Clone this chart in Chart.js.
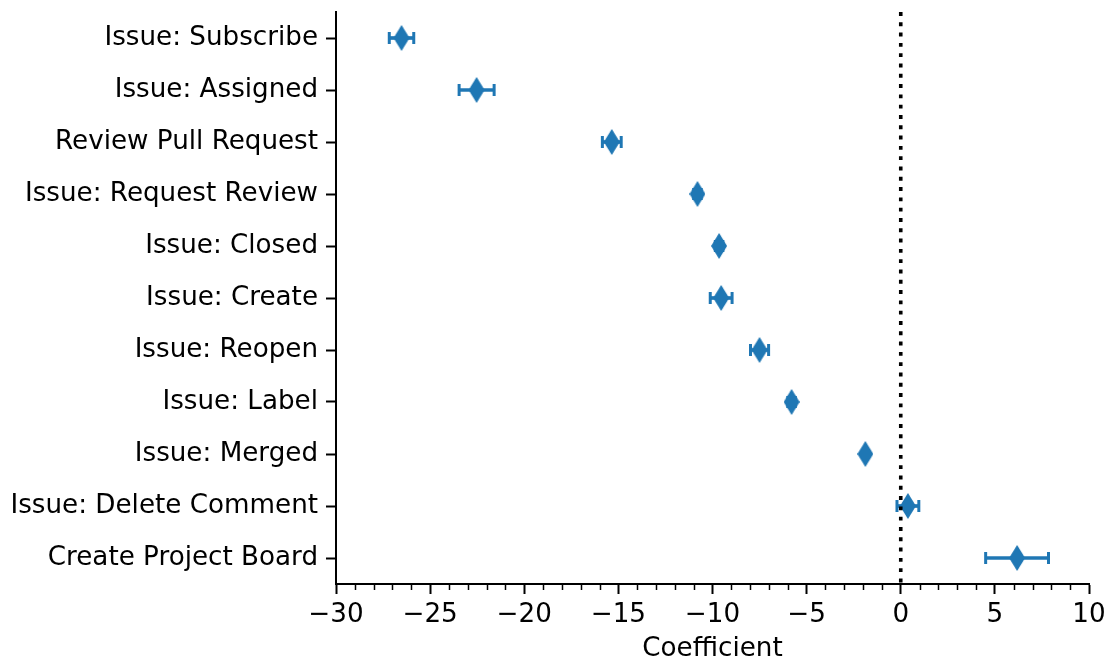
<!DOCTYPE html>
<html>
<head>
<meta charset="utf-8">
<script src="https://cdn.jsdelivr.net/npm/chart.js@4/dist/chart.umd.min.js"></script>
<style>
  html, body { margin: 0; padding: 0; background: #ffffff; }
  #wrap { width: 1112px; height: 662px; }
</style>
</head>
<body>
<div id="wrap"><canvas id="chart" width="1112" height="662"></canvas></div>
<script>
// Event types and their estimated coefficients with error margins
const categories = [
  'Issue: Subscribe',
  'Issue: Assigned',
  'Review Pull Request',
  'Issue: Request Review',
  'Issue: Closed',
  'Issue: Create',
  'Issue: Reopen',
  'Issue: Label',
  'Issue: Merged',
  'Issue: Delete Comment',
  'Create Project Board'
];
const coefficients = [-26.52, -22.53, -15.35, -10.8, -9.65, -9.54, -7.5, -5.8, -1.88, 0.38, 6.18];
const errorMargins = [0.65, 0.93, 0.5, 0.2, 0.2, 0.58, 0.48, 0.2, 0.1, 0.58, 1.67];
const xTickValues = [-30, -25, -20, -15, -10, -5, 0, 5, 10];

const BLUE = '#1f77b4';
const FONT = 'DejaVu Sans';
const FONT_SIZE = 26.2;

// Thin diamond marker
function makeDiamond(w, h, color) {
  const c = document.createElement('canvas');
  c.width = w; c.height = h;
  const g = c.getContext('2d');
  g.fillStyle = color;
  g.beginPath();
  g.moveTo(w / 2, 0);
  g.lineTo(w, h / 2);
  g.lineTo(w / 2, h);
  g.lineTo(0, h / 2);
  g.closePath();
  g.fill();
  return c;
}
const diamond = makeDiamond(16, 26, BLUE);

const intervalData = categories.map((c, i) => [coefficients[i] - errorMargins[i], coefficients[i] + errorMargins[i]]);
const pointData = categories.map((c, i) => ({ x: coefficients[i], y: c }));
const capData = [];
categories.forEach((c, i) => {
  capData.push({ x: coefficients[i] - errorMargins[i], y: c });
  capData.push({ x: coefficients[i] + errorMargins[i], y: c });
});

// Vertical dotted reference line at zero, plus minor ticks on the x axis
const extras = {
  id: 'extras',
  afterDatasetsDraw(chart) {
    const { ctx, chartArea, scales } = chart;
    const x0 = scales.x.getPixelForValue(0);
    ctx.save();
    ctx.strokeStyle = '#000';
    ctx.lineWidth = 3.6;
    ctx.setLineDash([3.9, 6.4]);
    ctx.lineCap = 'butt';
    ctx.beginPath();
    ctx.moveTo(x0, chartArea.top);
    ctx.lineTo(x0, chartArea.bottom);
    ctx.stroke();
    ctx.restore();
  },
  afterDraw(chart) {
    const { ctx, chartArea, scales } = chart;
    ctx.save();
    ctx.strokeStyle = '#000';
    ctx.lineWidth = 1.5;
    for (let v = -30; v <= 10; v++) {
      if (v % 5 === 0) continue;
      const px = Math.round(scales.x.getPixelForValue(v)) + 0.5;
      ctx.beginPath();
      ctx.moveTo(px, chartArea.bottom);
      ctx.lineTo(px, chartArea.bottom + 6);
      ctx.stroke();
    }
    ctx.restore();
  }
};

new Chart(document.getElementById('chart'), {
  type: 'bar',
  data: {
    labels: categories,
    datasets: [
      {
        type: 'line',
        data: pointData,
        showLine: false,
        pointStyle: diamond,
        pointRadius: 8,
        order: 0
      },
      {
        type: 'line',
        data: capData,
        showLine: false,
        pointStyle: 'line',
        rotation: 90,
        pointRadius: 6,
        pointBorderWidth: 3,
        pointBorderColor: BLUE,
        order: 1
      },
      {
        type: 'bar',
        data: intervalData,
        backgroundColor: BLUE,
        barThickness: 3,
        order: 2
      }
    ]
  },
  options: {
    indexAxis: 'y',
    responsive: false,
    animation: false,
    devicePixelRatio: 1,
    layout: { padding: { top: 12, right: 23, bottom: 0, left: 0 } },
    plugins: { legend: { display: false }, tooltip: { enabled: false } },
    scales: {
      y: {
        type: 'category',
        offset: true,
        grid: { display: true, offset: false, drawOnChartArea: false, drawTicks: true, tickLength: 10, tickWidth: 2, tickColor: '#000' },
        border: { display: true, color: '#000', width: 2 },
        ticks: { color: '#000', font: { family: FONT, size: FONT_SIZE }, padding: 8 },
        afterFit(scale) {
          scale.width = 336;
          scale.paddingTop = 0;
          scale.paddingBottom = 0;
        }
      },
      x: {
        type: 'linear',
        min: -30,
        max: 10,
        afterBuildTicks(scale) { scale.ticks = xTickValues.map(v => ({ value: v })); },
        grid: { display: true, drawOnChartArea: false, drawTicks: true, tickLength: 10, tickWidth: 2, tickColor: '#000' },
        border: { display: true, color: '#000', width: 2 },
        ticks: {
          color: '#000',
          font: { family: FONT, size: FONT_SIZE },
          padding: 5,
          maxRotation: 0,
          callback: v => (v < 0 ? '\u2212' + Math.abs(v) : String(v))
        },
        title: { display: true, text: 'Coefficient', color: '#000', font: { family: FONT, size: FONT_SIZE }, padding: { top: 4, bottom: -3 } },
        afterFit(scale) {
          scale.height = 78;
          scale.paddingLeft = 0;
        }
      }
    }
  },
  plugins: [extras]
});
</script>
</body>
</html>
